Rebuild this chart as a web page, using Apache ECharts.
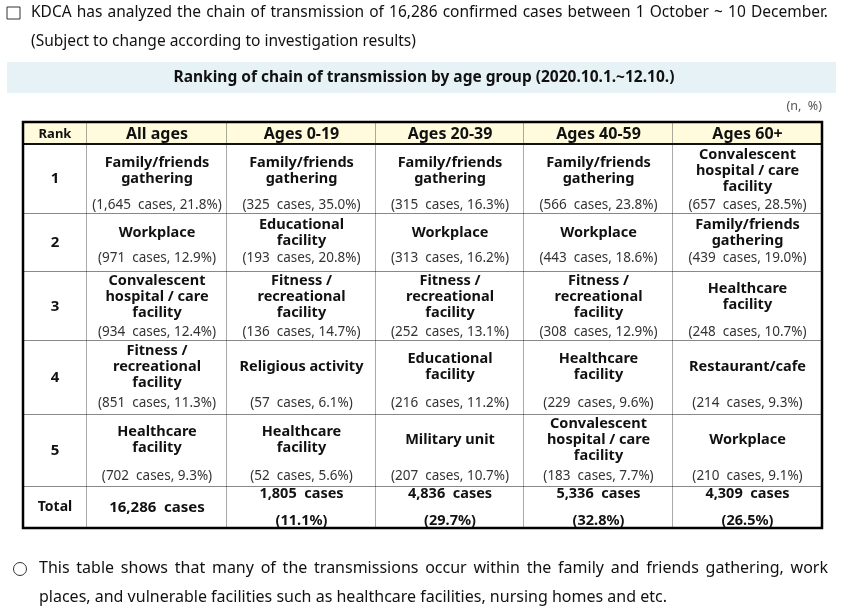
<!DOCTYPE html>
<html>
<head>
<meta charset="utf-8">
<script src="https://cdn.jsdelivr.net/npm/echarts@6/dist/echarts.min.js"></script>
<style>
  html, body { margin: 0; padding: 0; background: #fff; }
  #main { width: 842px; height: 611px; }
</style>
</head>
<body>
<div id="main"></div>
<script>
// ---- table data ----
var ranks = ['1', '2', '3', '4', '5'];
var ageGroups = ['All ages', 'Ages 0-19', 'Ages 20-39', 'Ages 40-59', 'Ages 60+'];

var causeAll = ['Family/friends\ngathering', 'Workplace', 'Convalescent\nhospital / care\nfacility', 'Fitness /\nrecreational\nfacility', 'Healthcare\nfacility'];
var cases_All = [1645, 971, 934, 851, 702];
var pctAll = [21.8, 12.9, 12.4, 11.3, 9.3];

var cause0_19 = ['Family/friends\ngathering', 'Educational\nfacility', 'Fitness /\nrecreational\nfacility', 'Religious activity', 'Healthcare\nfacility'];
var cases0_19 = [325, 193, 136, 57, 52];
var pct0_19 = [35.0, 20.8, 14.7, 6.1, 5.6];

var cause20_39 = ['Family/friends\ngathering', 'Workplace', 'Fitness /\nrecreational\nfacility', 'Educational\nfacility', 'Military unit'];
var cases20_39 = [315, 313, 252, 216, 207];
var pct20_39 = [16.3, 16.2, 13.1, 11.2, 10.7];

var cause40_59 = ['Family/friends\ngathering', 'Workplace', 'Fitness /\nrecreational\nfacility', 'Healthcare\nfacility', 'Convalescent\nhospital / care\nfacility'];
var cases40_59 = [566, 443, 308, 229, 183];
var pct40_59 = [23.8, 18.6, 12.9, 9.6, 7.7];

var cause60 = ['Convalescent\nhospital / care\nfacility', 'Family/friends\ngathering', 'Healthcare\nfacility', 'Restaurant/cafe', 'Workplace'];
var cases60 = [657, 439, 248, 214, 210];
var pct60 = [28.5, 19.0, 10.7, 9.3, 9.1];

var totalCases = [16286, 1805, 4836, 5336, 4309];
var totalPct = [null, 11.1, 29.7, 32.8, 26.5];

// ---- layout (table units, px from table top-left) ----
var colEdges = [0, 64, 204, 353, 501, 650, 799];
var rowEdges = [0, 22, 92, 150, 219, 293, 365, 406];
var causeOffset = [27, 19, 25, 26, 25];
var casesOffset = [61, 44, 60, 62, 61];

var FONT = "'Noto Sans', sans-serif";

var causes = [causeAll, cause0_19, cause20_39, cause40_59, cause60];
var counts = [cases_All, cases0_19, cases20_39, cases40_59, cases60];
var pcts = [pctAll, pct0_19, pct20_39, pct40_59, pct60];

function fmt(n) { return n.toLocaleString('en-US'); }

// build the cell list
var cells = [];
cells.push({ col: 0, row: 0, kind: 'head', text: 'Rank' });
ageGroups.forEach(function (g, i) {
  cells.push({ col: i + 1, row: 0, kind: 'head', text: g });
});
for (var r = 0; r < ranks.length; r++) {
  cells.push({ col: 0, row: r + 1, kind: 'rank', text: ranks[r] });
  for (var c = 0; c < causes.length; c++) {
    cells.push({
      col: c + 1, row: r + 1, kind: 'cause', r: r,
      text: causes[c][r],
      sub: '(' + fmt(counts[c][r]) + '  cases, ' + pcts[c][r].toFixed(1) + '%)'
    });
  }
}
cells.push({ col: 0, row: 6, kind: 'rank', text: 'Total' });
totalCases.forEach(function (v, i) {
  if (totalPct[i] == null) {
    cells.push({ col: i + 1, row: 6, kind: 'total1', text: fmt(v) + '  cases' });
  } else {
    cells.push({ col: i + 1, row: 6, kind: 'total2', text: fmt(v) + '  cases', sub: '(' + totalPct[i].toFixed(1) + '%)' });
  }
});

function renderCell(params, api) {
  var cell = cells[params.dataIndex];
  var p0 = api.coord([colEdges[cell.col], rowEdges[cell.row]]);
  var p1 = api.coord([colEdges[cell.col + 1], rowEdges[cell.row + 1]]);
  var x = p0[0], y = p0[1], w = p1[0] - p0[0], h = p1[1] - p0[1];
  var cx = x + w / 2;
  var children = [
    { type: 'rect', shape: { x: x, y: y, width: w, height: h },
      style: { fill: cell.kind === 'head' ? '#fffbdc' : '#fff' } },
    { type: 'line', shape: { x1: x + w, y1: y, x2: x + w, y2: y + h },
      style: { stroke: '#555', lineWidth: 1 } },
    { type: 'line', shape: { x1: x, y1: y + h, x2: x + w, y2: y + h },
      style: { stroke: '#111', lineWidth: 1 } }
  ];
  if (cell.kind === 'head') {
    children.push({ type: 'text', style: {
      text: cell.text, x: cx, y: y + h / 2 + 1, align: 'center', verticalAlign: 'middle',
      font: 'bold ' + (cell.col === 0 ? 13 : 16) + 'px ' + FONT, fill: '#111' } });
  } else if (cell.kind === 'rank') {
    children.push({ type: 'text', style: {
      text: cell.text, x: cx, y: y + h / 2, align: 'center', verticalAlign: 'middle',
      font: 'bold ' + (cell.row === 6 ? 14 : 15) + 'px ' + FONT, fill: '#111' } });
  } else if (cell.kind === 'cause') {
    var yc = api.coord([0, rowEdges[cell.row] + causeOffset[cell.r]])[1];
    var ys = api.coord([0, rowEdges[cell.row] + casesOffset[cell.r]])[1];
    children.push({ type: 'text', style: {
      text: cell.text, x: cx, y: yc, align: 'center', verticalAlign: 'middle',
      font: 'bold 14.5px ' + FONT, lineHeight: 16.3, fill: '#111' } });
    children.push({ type: 'text', style: {
      text: cell.sub, x: cx, y: ys, align: 'center', verticalAlign: 'middle',
      font: '13.5px ' + FONT, fill: '#333' } });
  } else if (cell.kind === 'total1') {
    children.push({ type: 'text', style: {
      text: cell.text, x: cx, y: y + h / 2, align: 'center', verticalAlign: 'middle',
      font: 'bold 15px ' + FONT, fill: '#111' } });
  } else {
    children.push({ type: 'text', style: {
      text: cell.text, x: cx, y: y + 7, align: 'center', verticalAlign: 'middle',
      font: 'bold 14.5px ' + FONT, fill: '#111' } });
    children.push({ type: 'text', style: {
      text: cell.sub, x: cx, y: y + 34, align: 'center', verticalAlign: 'middle',
      font: 'bold 14.5px ' + FONT, fill: '#111' } });
  }
  return { type: 'group', children: children };
}

function renderFrame(params, api) {
  var p0 = api.coord([colEdges[0], rowEdges[0]]);
  var p1 = api.coord([colEdges[colEdges.length - 1], rowEdges[rowEdges.length - 1]]);
  var hb = api.coord([0, rowEdges[1]])[1];
  return { type: 'group', children: [
    { type: 'line', shape: { x1: p0[0], y1: hb, x2: p1[0], y2: hb }, style: { stroke: '#111', lineWidth: 2 } },
    { type: 'rect', shape: { x: p0[0], y: p0[1], width: p1[0] - p0[0], height: p1[1] - p0[1] },
      style: { fill: null, stroke: '#000', lineWidth: 2.5 } }
  ] };
}

// paragraph lines spread word by word across the given width (justified text)
var measureCtx = document.createElement('canvas').getContext('2d');
function justifiedLine(text, x0, x1, y, font) {
  measureCtx.font = font;
  var words = text.split(' ');
  var widths = words.map(function (w) { return measureCtx.measureText(w).width; });
  var sum = widths.reduce(function (a, b) { return a + b; }, 0);
  var gap = (x1 - x0 - sum) / (words.length - 1);
  var x = x0, out = [];
  words.forEach(function (w, i) {
    out.push({ type: 'text', x: x, y: y, style: { text: w, font: font, fill: '#111', verticalAlign: 'middle' } });
    x += widths[i] + gap;
  });
  return out;
}

var topFont = '15.5px ' + FONT;
var bottomFont = '16px ' + FONT;

var graphics = [
  { type: 'rect', shape: { x: 7, y: 7, width: 13, height: 12 }, style: { fill: '#fff', stroke: '#333', lineWidth: 1 } },
  { type: 'text', x: 31, y: 42, style: { text: '(Subject to change according to investigation results)',
      font: topFont, fill: '#111', verticalAlign: 'middle' } },
  { type: 'rect', shape: { x: 7, y: 62, width: 829, height: 31 }, style: { fill: '#e6f2f5' } },
  { type: 'text', x: 424, y: 78, style: { text: 'Ranking of chain of transmission by age group (2020.10.1.~12.10.)',
      font: 'bold 15.5px ' + FONT, fill: '#111', align: 'center', verticalAlign: 'middle' } },
  { type: 'text', x: 822, y: 106, style: { text: '(n,  %)',
      font: '12.5px ' + FONT, fill: '#555', align: 'right', verticalAlign: 'middle' } },
  { type: 'circle', shape: { cx: 20, cy: 569, r: 6.5 }, style: { fill: '#fff', stroke: '#333', lineWidth: 1 } },
  { type: 'text', x: 39, y: 597, style: { text: 'places, and vulnerable facilities such as healthcare facilities, nursing homes and etc.',
      font: bottomFont, fill: '#111', verticalAlign: 'middle' } }
];
graphics = graphics.concat(
  justifiedLine('KDCA has analyzed the chain of transmission of 16,286 confirmed cases between 1 October ~ 10 December.', 31, 828, 13, topFont),
  justifiedLine('This table shows that many of the transmissions occur within the family and friends gathering, work', 39, 828, 568, bottomFont)
);

var chart = echarts.init(document.getElementById('main'), null, { renderer: 'canvas' });

var option = {
  backgroundColor: '#fff',
  animation: false,
  grid: { left: 23, top: 122, width: 799, height: 406 },
  xAxis: { type: 'value', min: 0, max: 799, show: false },
  yAxis: { type: 'value', min: 0, max: 406, inverse: true, show: false },
  graphic: graphics,
  series: [
    {
      type: 'custom',
      name: 'cells',
      coordinateSystem: 'cartesian2d',
      renderItem: renderCell,
      data: cells.map(function (d) { return [colEdges[d.col], rowEdges[d.row]]; }),
      clip: false,
      silent: true,
      z: 2
    },
    {
      type: 'custom',
      name: 'frame',
      coordinateSystem: 'cartesian2d',
      renderItem: renderFrame,
      data: [[0, 0]],
      clip: false,
      silent: true,
      z: 3
    }
  ]
};

chart.setOption(option);
</script>
</body>
</html>
